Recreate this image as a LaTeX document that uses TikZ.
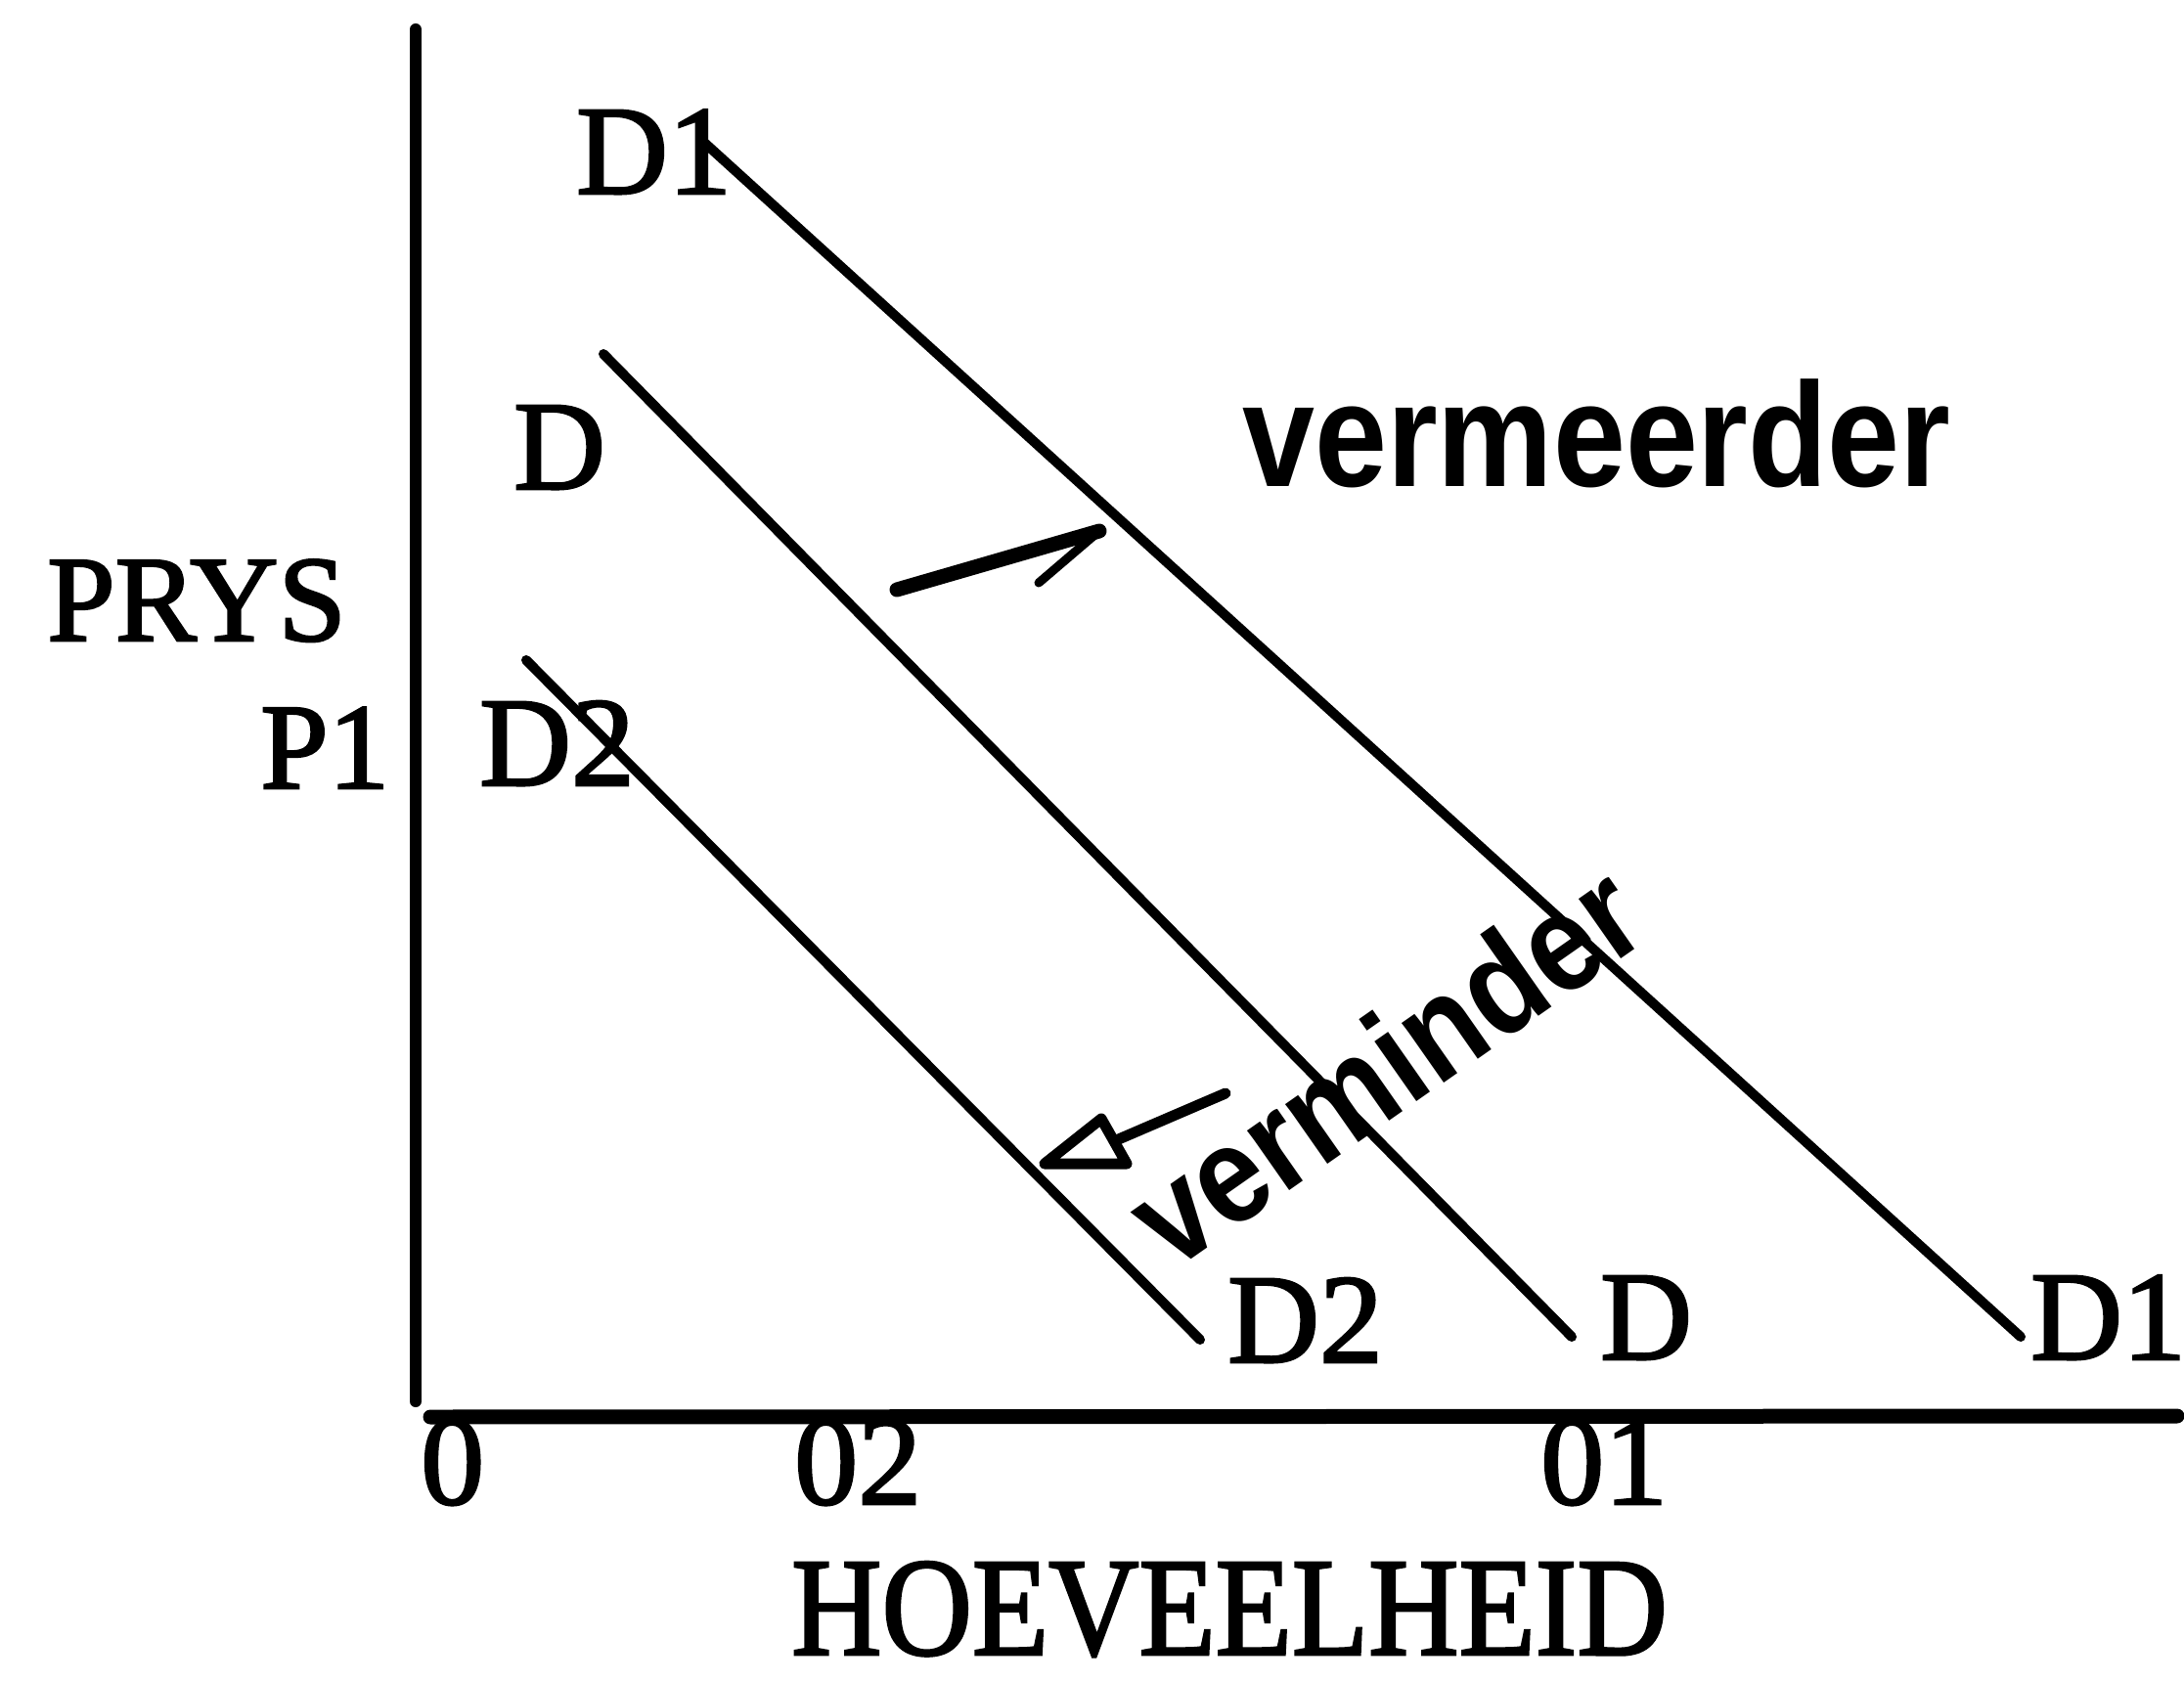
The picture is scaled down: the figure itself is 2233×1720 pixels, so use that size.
\documentclass[tikz,border=0pt]{standalone}
\usepackage{fontspec}
\setmainfont{Liberation Serif}
\newfontfamily\serifheavy{Liberation Serif}[FakeBold=2]
\newfontfamily\lsans{Liberation Sans}
\usetikzlibrary{arrows.meta}
\begin{document}
\begin{tikzpicture}[x=1pt,y=-1pt,
  lbl/.style={inner sep=0pt, font={\serifheavy\fontsize{130}{150}\selectfont}},
  axlbl/.style={inner sep=0pt, font={\serifheavy\fontsize{125}{150}\selectfont}},
  sanslbl/.style={inner sep=0pt, font={\lsans\bfseries\fontsize{133}{150}\selectfont}},
  curve/.style={line width=10pt, line cap=round},
]
\useasboundingbox (0,0) rectangle (2233,1720);
\fill[white] (0,0) rectangle (2233,1720);

% axes
\coordinate (vtop) at (425,30);
\coordinate (orig) at (425,1433);
\coordinate (hstart) at (440,1449);
\coordinate (hend) at (2226,1448);
\draw[line width=12pt,line cap=round] (vtop) -- (orig);
\draw[line width=15pt,line cap=round] (hstart) -- (hend);

% demand curves
\coordinate (d1a) at (717,143);
\coordinate (d1b) at (2066,1367);
\coordinate (da) at (617,362);
\coordinate (db) at (1607,1367);
\coordinate (d2a) at (538,675);
\coordinate (d2b) at (1227,1370);
\draw[curve] (d1a) -- (d1b);
\draw[curve] (da) -- (db);
\draw[curve] (d2a) -- (d2b);

% arrows
\coordinate (ut) at (917,603);
\coordinate (uh) at (1124,543);
\coordinate (ub) at (1062,596);
\draw[line width=15pt,line cap=round] (ut) -- (uh);
\draw[line width=9pt,line cap=round] (uh) -- (ub);

\coordinate (dt) at (1253,1118);
\coordinate (dh) at (1068,1190);
\coordinate (dk1) at (1126,1144);
\coordinate (dk2) at (1152,1190);
\coordinate (dkm) at (1139,1167);
\draw[line width=11pt,line cap=round] (dt) -- (dkm);
\draw[line width=11pt,line join=round] (dh) -- (dk1) -- (dk2) -- cycle;

% labels
\node[lbl,anchor=base west] (lD1t) at (589,198) {D1};
\node[lbl,anchor=base west] (lDm) at (525,500) {D};
\node[lbl,anchor=base west] (lD2l) at (490,803) {D2};
\node[axlbl,anchor=base west] (lPrys) at (48,655) {PRYS};
\node[axlbl,anchor=base west] (lP1) at (266,806) {P1};
\node[lbl,anchor=base west] (lD2b) at (1255,1393) {D2};
\node[lbl,anchor=base west] (lDb) at (1636,1390) {D};
\node[lbl,anchor=base west] (lD1b) at (2076,1390) {D1};
\node[lbl,anchor=base west] (l0) at (430,1538) {0};
\node[lbl,anchor=base west] (l02) at (812,1538) {02};
\node[lbl,anchor=base west] (l01) at (1575,1538) {01};
\node[inner sep=0pt,anchor=base,font={\serifheavy\fontsize{128}{150}\selectfont}] (lHoev) at (1257,1692) {\scalebox{1}[1.12]{HOEVEELHEID}};
\node[sanslbl,anchor=base west] (lVerm) at (1270,497) {\scalebox{1}[1.14]{vermeerder}};
\node[inner sep=0pt,font={\lsans\bfseries\fontsize{124}{140}\selectfont},anchor=base,rotate=35] (lVmin) at (1444,1130) {\scalebox{1}[1.14]{verminder}};
\end{tikzpicture}
\end{document}
